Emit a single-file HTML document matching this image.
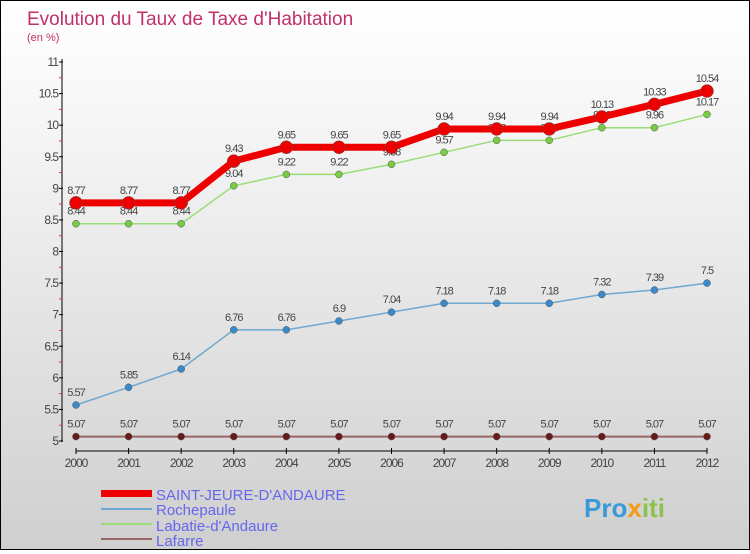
<!DOCTYPE html>
<html><head><meta charset="utf-8"><style>
body{margin:0;width:750px;height:550px;overflow:hidden;font-family:"Liberation Sans",sans-serif}
#wrap{position:relative;width:748px;height:548px;border:1px solid #000;background:linear-gradient(#fff 0%,#f2f2f2 30%,#cfcfcf 100%)}
text{font-family:"Liberation Sans",sans-serif}
</style></head><body>
<div id="wrap">
<svg id="chart" width="748" height="548">
<text x="26" y="24" font-size="19" fill="#c0306a">Evolution du Taux de Taxe d'Habitation</text>
<text x="26" y="40" font-size="11" fill="#c0306a">(en %)</text>
<g id="axes"></g><g id="series"></g>
<g>
<rect x="100" y="489" width="51" height="7" fill="#e00"/>
<text x="155" y="499" font-size="15" fill="#6666ee">SAINT-JEURE-D'ANDAURE</text>
<rect x="100" y="507" width="51" height="2" fill="#6fa8d0"/>
<text x="155" y="514" font-size="15" fill="#6666ee">Rochepaule</text>
<rect x="100" y="522" width="51" height="2" fill="#99dd77"/>
<text x="155" y="530" font-size="15" fill="#6666ee">Labatie-d'Andaure</text>
<rect x="100" y="537" width="51" height="2" fill="#996666"/>
<text x="155" y="545" font-size="15" fill="#6666ee">Lafarre</text>
</g>
<g>
<text x="583" y="516" font-size="26" font-weight="bold" fill="#3a9ad9">Pro<tspan fill="#f39c12">x</tspan><tspan fill="#8bc34a">iti</tspan></text>
</g>
</svg></div>
<script>
const years=[2000,2001,2002,2003,2004,2005,2006,2007,2008,2009,2010,2011,2012];
const saintJeure=[8.77,8.77,8.77,9.43,9.65,9.65,9.65,9.94,9.94,9.94,10.13,10.33,10.54];
const rochepaule=[5.57,5.85,6.14,6.76,6.76,6.9,7.04,7.18,7.18,7.18,7.32,7.39,7.5];
const labatie=[8.44,8.44,8.44,9.04,9.22,9.22,9.38,9.57,9.76,9.76,9.96,9.96,10.17];
const lafarre=[5.07,5.07,5.07,5.07,5.07,5.07,5.07,5.07,5.07,5.07,5.07,5.07,5.07];
const yTicks=[5,5.5,6,6.5,7,7.5,8,8.5,9,9.5,10,10.5,11];
const NS="http://www.w3.org/2000/svg";
const xs=i=>75+i*(706-75)/(years.length-1);
const ys=v=>440-(v-5)*(440-61)/6;
function mk(tag,attrs,parent){const e=document.createElementNS(NS,tag);for(const k in attrs)e.setAttribute(k,attrs[k]);parent.appendChild(e);return e;}
const ax=document.getElementById('axes');
let l=mk('line',{x1:61,y1:58,x2:61,y2:441,stroke:'#000','stroke-width':1},ax);


l=mk('line',{x1:75,y1:450,x2:706,y2:450,stroke:'#000','stroke-width':1},ax);


yTicks.forEach((t,i)=>{
 const y=ys(t);
 mk('line',{x1:58,y1:y,x2:62,y2:y,stroke:'#000'},ax);
 if(i<yTicks.length-1)mk('line',{x1:58,y1:ys(t+0.25),x2:61,y2:ys(t+0.25),stroke:'#e33'},ax);
 const tx=mk('text',{x:57,y:y+4,'font-size':12,'text-anchor':'end',fill:'#444','letter-spacing':'-1'},ax);
 tx.textContent=String(t);
 
 
});
years.forEach((yr,i)=>{
 const x=xs(i);
 mk('line',{x1:x,y1:447,x2:x,y2:453,stroke:'#000'},ax);
 const tx=mk('text',{x:x,y:466,'font-size':12,'text-anchor':'middle',fill:'#444','letter-spacing':'-1'},ax);
 tx.textContent=String(yr);
 
 
});
const sg=document.getElementById('series');
function draw(data,name,color,w,r,dot){
 const g=mk('g',{},sg);
 
 
 const p=mk('polyline',{points:data.map((v,i)=>xs(i)+','+ys(v)).join(' '),fill:'none',stroke:color,'stroke-width':w,'stroke-linejoin':'round'},g);
 
 
 data.forEach((v,i)=>{
  const c=mk('circle',{cx:xs(i),cy:ys(v),r:r,fill:dot,stroke:'#555','stroke-width':0.5},g);
  
  
  const t=mk('text',{x:xs(i),y:ys(v)-9,'font-size':11,'text-anchor':'middle',fill:'#444','letter-spacing':'-1'},g);
  t.textContent=String(v);
  
  
 });
}
draw(lafarre,'lafarre','#996666',2,3.5,'#661a1a');
draw(rochepaule,'rochepaule','#6fa8d0',1.5,3.5,'#3a8ac9');
draw(labatie,'labatie','#99dd77',1.5,3.5,'#77cc44');
draw(saintJeure,'saint-jeure','#ee0000',7,6.5,'#ee0000');
</script>
</body></html>
